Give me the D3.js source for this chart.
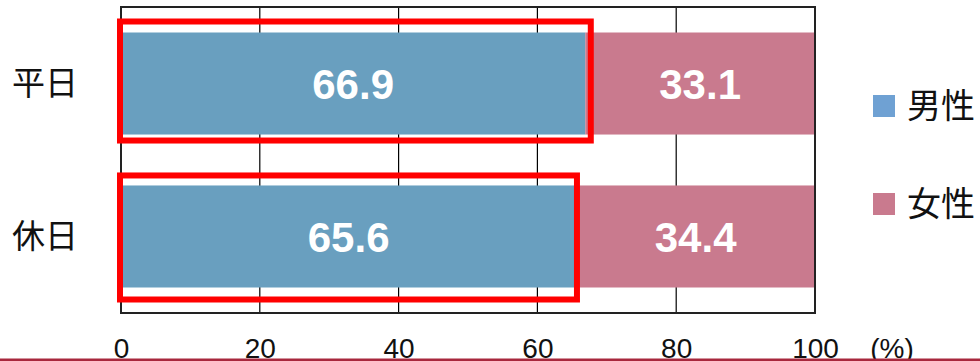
<!DOCTYPE html>
<html>
<head>
<meta charset="utf-8">
<script src="https://cdn.jsdelivr.net/npm/d3@7/dist/d3.min.js"></script>
<style>
  html, body { margin: 0; padding: 0; background: #fff; }
  svg { display: block; }
</style>
</head>
<body>
<svg id="chart" width="980" height="361"></svg>
<script>
const categories = ["平日", "休日"];
const maleValues = [66.9, 65.6];
const femaleValues = [33.1, 34.4];
const seriesNames = ["男性", "女性"];
const tickValues = [0, 20, 40, 60, 80, 100];
const unitLabel = "(%)";

(function () {
const svg = d3.select("#chart");
const W = 980, H = 361;
const pL = 121, pR = 815, pT = 7, pB = 313;

const x = d3.scaleLinear().domain([0, 100]).range([pL, pR]);
const y = d3.scaleBand().domain(categories).range([pT, pB])
  .paddingInner(0.333).paddingOuter(0.1667);

const barColors = ["#699fbf", "#c97a8e"];
const legendColors = ["#6fa1d3", "#c97a8e"];

// gridlines
svg.append("g").selectAll("line")
  .data(tickValues.filter(t => t > 0 && t < 100))
  .join("line")
  .attr("x1", d => x(d)).attr("x2", d => x(d))
  .attr("y1", pT).attr("y2", pB)
  .attr("stroke", "#000").attr("stroke-width", 1.2);

// stacked data
const rows = categories.map((c, i) => ({ cat: c, vals: [maleValues[i], femaleValues[i]] }));

const barG = svg.append("g");
rows.forEach(r => {
  let acc = 0;
  r.vals.forEach((v, j) => {
    barG.append("rect")
      .attr("x", x(acc)).attr("y", y(r.cat))
      .attr("width", x(acc + v) - x(acc)).attr("height", y.bandwidth())
      .attr("fill", barColors[j]);
    barG.append("text")
      .attr("x", (x(acc) + x(acc + v)) / 2)
      .attr("y", y(r.cat) + y.bandwidth() / 2)
      .attr("dy", "0.36em")
      .attr("text-anchor", "middle")
      .attr("fill", "#fff")
      .attr("font-family", "'Liberation Sans', Arial, sans-serif")
      .attr("font-weight", "bold")
      .attr("font-size", 42)
      .text(v.toFixed(1));
    acc += v;
  });
});

// plot frame
svg.append("rect")
  .attr("x", pL).attr("y", pT)
  .attr("width", pR - pL).attr("height", pB - pT)
  .attr("fill", "none").attr("stroke", "#222").attr("stroke-width", 2);

// red highlight boxes around male bars
const pads = [{ r: 5.5, t: 11, b: 6 }, { r: 0.7, t: 10, b: 12 }];
rows.forEach((r, i) => {
  const p = pads[i];
  svg.append("rect")
    .attr("x", x(0) - 1)
    .attr("y", y(r.cat) - p.t)
    .attr("width", x(r.vals[0]) + p.r - (x(0) - 1))
    .attr("height", y.bandwidth() + p.t + p.b)
    .attr("fill", "none")
    .attr("stroke", "#ff0000")
    .attr("stroke-width", 6);
});

// category labels
svg.append("g").selectAll("text")
  .data(categories)
  .join("text")
  .attr("x", 12)
  .attr("y", d => y(d) + y.bandwidth() / 2)
  .attr("dy", "0.36em")
  .attr("font-family", "'Noto Sans CJK JP', sans-serif")
  .attr("font-size", 33)
  .attr("fill", "#111")
  .text(d => d);

// x axis tick labels
const axis = d3.axisBottom(x).tickValues(tickValues).tickSize(0).tickPadding(0);
const axG = svg.append("g").attr("transform", "translate(0, 338)").call(axis);
axG.select(".domain").remove();
axG.selectAll("text")
  .attr("dy", "0.72em")
  .attr("font-family", "'Liberation Sans Narrow', 'Liberation Sans', Arial, sans-serif")
  .attr("font-size", 28)
  .attr("fill", "#111");

svg.append("text")
  .attr("x", 892).attr("y", 338).attr("dy", "0.72em")
  .attr("text-anchor", "middle")
  .attr("font-family", "'Liberation Sans Narrow', 'Liberation Sans', Arial, sans-serif")
  .attr("font-size", 28)
  .attr("fill", "#111")
  .text(unitLabel);

// legend
const leg = svg.append("g");
const legY = [106, 204];
seriesNames.forEach((n, i) => {
  leg.append("rect")
    .attr("x", 873).attr("y", legY[i] - 11)
    .attr("width", 22).attr("height", 22)
    .attr("fill", legendColors[i]);
  leg.append("text")
    .attr("x", 907).attr("y", legY[i])
    .attr("dy", "0.36em")
    .attr("font-family", "'Noto Sans CJK JP', sans-serif")
    .attr("font-size", 34)
    .attr("fill", "#111")
    .text(n);
});

// bottom decorative line
svg.append("line")
  .attr("x1", 0).attr("x2", W).attr("y1", 360).attr("y2", 360)
  .attr("stroke", "#a8283d").attr("stroke-width", 3);
})();
</script>
</body>
</html>
